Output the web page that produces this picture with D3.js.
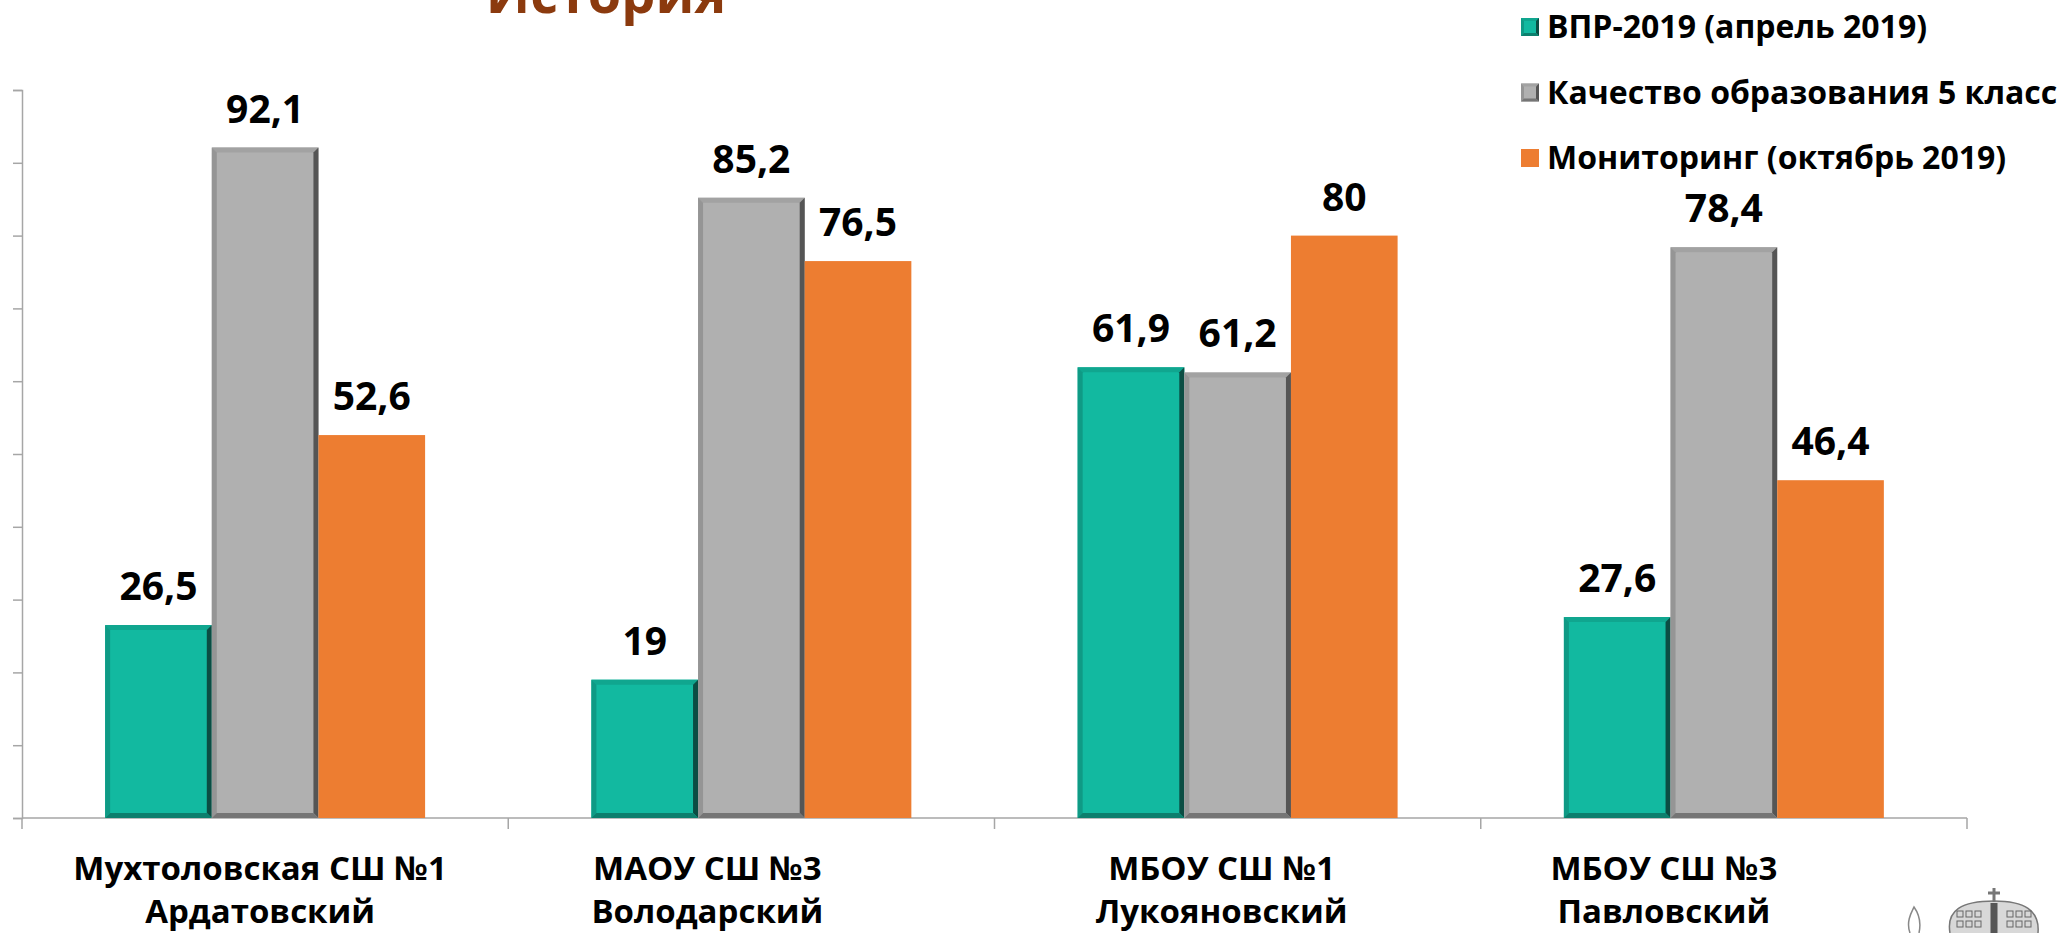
<!DOCTYPE html>
<html>
<head>
<meta charset="utf-8">
<script src="https://cdn.jsdelivr.net/npm/d3@7"></script>
<style>
  body { margin: 0; background: #fff; }
  svg { display: block; font-family: "Open Sans", "Noto Sans", sans-serif; }
</style>
</head>
<body>
<svg id="chart"></svg>
<script>
const schools = [
    ["Мухтоловская СШ №1", "Ардатовский"],
    ["МАОУ СШ №3", "Володарский"],
    ["МБОУ СШ №1", "Лукояновский"],
    ["МБОУ СШ №3", "Павловский"]
];
const seriesNames = ["ВПР-2019 (апрель 2019)", "Качество образования 5 класс", "Мониторинг (октябрь 2019)"];
const vpr = [26.5, 19, 61.9, 27.6];
const quality = [92.1, 85.2, 61.2, 78.4];
const monitoring = [52.6, 76.5, 80, 46.4];
const yTicks = [0, 10, 20, 30, 40, 50, 60, 70, 80, 90, 100];

const width = 2070, height = 933;
const svg = d3.select("#chart").attr("width", width).attr("height", height);

// category labels on the slide are not quite centred under their groups
const labelShift = [-5, -44, -16, -60];

// colours: base, top, left, right, bottom (bevel edges)
const styles = [
    {fill: "#12b9a0", top: "#10a68f", left: "#0f9a85", right: "#0b4d43", bottom: "#0c7f6d", bevel: true},
    {fill: "#b0b0b0", top: "#a2a2a2", left: "#959595", right: "#555555", bottom: "#757575", bevel: true},
    {fill: "#ed7d31", bevel: false}
];

const series = [vpr, quality, monitoring];
const catKeys = schools.map((d, i) => i);

const x0 = d3.scaleBand().domain(catKeys).range([22, 1967]).paddingInner(0.342).paddingOuter(0.171);
const x1 = d3.scaleBand().domain(d3.range(series.length)).range([0, x0.bandwidth()]);
const y = d3.scaleLinear().domain([0, 100]).range([818, 90]);

// title (cut off at top like the slide)
svg.append("text")
    .attr("x", 606).attr("y", 13)
    .attr("text-anchor", "middle")
    .attr("font-size", 54).attr("font-weight", 700)
    .attr("fill", "#8b3a0e")
    .text("История");

// y axis: line + ticks, no labels
const yAxis = svg.append("g").attr("transform", "translate(22,0)")
    .call(d3.axisLeft(y).tickValues(yTicks).tickSize(9).tickFormat(""));
yAxis.selectAll("path, line").attr("stroke", "#a6a6a6").attr("stroke-width", 1.5);

// x axis line with ticks at category boundaries
const xa = svg.append("g");
xa.append("line").attr("x1", 22).attr("x2", 1967).attr("y1", y(0)).attr("y2", y(0))
    .attr("stroke", "#a6a6a6").attr("stroke-width", 1.5);
const bounds = catKeys.map(i => x0(i) - x0.step() * 0.171).concat([1967]);
xa.selectAll("line.tick").data(bounds).enter().append("line")
    .attr("class", "tick")
    .attr("x1", d => d).attr("x2", d => d)
    .attr("y1", y(0)).attr("y2", y(0) + 11)
    .attr("stroke", "#a6a6a6").attr("stroke-width", 1.5);

function bevelBar(g, bx, by, bw, bh, st, b) {
    g.append("rect").attr("x", bx).attr("y", by).attr("width", bw).attr("height", bh).attr("fill", st.fill);
    if (!st.bevel) return;
    const x2 = bx + bw, y2 = by + bh;
    const poly = (pts, c) => g.append("polygon").attr("points", pts.map(p => p.join(",")).join(" ")).attr("fill", c);
    poly([[bx, by], [x2, by], [x2 - b, by + b], [bx + b, by + b]], st.top);
    poly([[bx, by], [bx + b, by + b], [bx + b, y2 - b], [bx, y2]], st.left);
    poly([[x2, by], [x2, y2], [x2 - b, y2 - b], [x2 - b, by + b]], st.right);
    poly([[bx, y2], [bx + b, y2 - b], [x2 - b, y2 - b], [x2, y2]], st.bottom);
}

const fmt = v => String(v).replace(".", ",");

catKeys.forEach(ci => {
    const g = svg.append("g").attr("transform", `translate(${x0(ci)},0)`);
    series.forEach((vals, si) => {
        const v = vals[ci];
        bevelBar(g, x1(si), y(v), x1.bandwidth(), y(0) - y(v), styles[si], 5);
        g.append("text")
            .attr("x", x1(si) + x1.bandwidth() / 2)
            .attr("y", y(v) - 25)
            .attr("text-anchor", "middle")
            .attr("font-size", 39).attr("font-weight", 700)
            .attr("fill", "#000")
            .text(fmt(v));
    });
    // category label, two lines
    const t = svg.append("text")
        .attr("text-anchor", "middle")
        .attr("font-size", 33).attr("font-weight", 700).attr("fill", "#000");
    schools[ci].forEach((line, li) => {
        t.append("tspan")
            .attr("x", x0(ci) + x0.bandwidth() / 2 + labelShift[ci])
            .attr("y", 880 + li * 43)
            .text(line);
    });
});

// legend
const legend = svg.append("g");
seriesNames.forEach((name, i) => {
    const ly = 38 + i * 65.5;
    const row = legend.append("g");
    bevelBar(row, 1521, ly - 20, 18, 18, styles[i], 3);
    row.append("text")
        .attr("x", 1547).attr("y", ly)
        .attr("font-size", 32).attr("font-weight", 700).attr("fill", "#000")
        .text(name);
});

// emblem fragment in the bottom-right corner (crown)
const em = svg.append("g").attr("stroke", "#777").attr("fill", "none").attr("stroke-width", 1.5);
em.append("path").attr("d", "M1950,933 C1946,910 1962,901 1994,901 C2024,901 2040,910 2038,933").attr("fill", "#d8d8d8");
em.append("path").attr("d", "M1994,903 L1994,933").attr("stroke", "#555").attr("stroke-width", 7);
em.append("line").attr("x1", 1994).attr("x2", 1994).attr("y1", 888).attr("y2", 902).attr("stroke-width", 3);
em.append("line").attr("x1", 1988).attr("x2", 2000).attr("y1", 893).attr("y2", 893).attr("stroke-width", 3);
[1960, 1969, 1978, 2010, 2019, 2028].forEach(cx => {
    [914, 924].forEach(cy => {
        em.append("rect").attr("x", cx - 3).attr("y", cy - 3).attr("width", 6).attr("height", 6).attr("stroke", "#666").attr("stroke-width", 1);
    });
});
em.append("path").attr("d", "M1910,933 C1906,922 1911,913 1914,907 C1919,914 1921,924 1919,933").attr("stroke", "#888");
</script>
</body>
</html>
